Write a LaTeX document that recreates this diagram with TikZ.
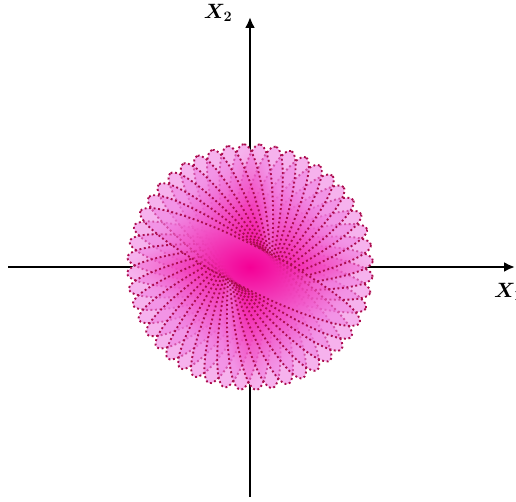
\documentclass[tikz,border=0pt]{standalone}
\usepackage{bm}
\usetikzlibrary{arrows.meta}
\definecolor{deep}{RGB}{245,0,150}
\definecolor{lite}{RGB}{240,128,226}
\definecolor{dotc}{RGB}{172,12,78}
\tikzset{
 axisline/.style={line width=2.4pt, -{Latex[length=11pt,width=10pt]}},
 petal/.style={inner color=deep, outer color=lite, fill opacity=0.6},
 petaledge/.style={draw=dotc, line width=1.9pt, dash pattern=on 1.9pt off 2.6pt},
 lab/.style={font=\fontsize{20}{24}\selectfont, inner sep=0pt}
}
\begin{document}
\begin{tikzpicture}[x=1pt,y=1pt]
\useasboundingbox (0,0) rectangle (516,502);
\coordinate (O) at (250,235);
\coordinate (xs) at (8,235);
\coordinate (xe) at (515,235);
\coordinate (ys) at (250,5);
\coordinate (ye) at (250,485);
\draw[axisline] (xs) -- (xe);
\draw[axisline] (ys) -- (ye);
\fill[white] foreach \i in {0,...,23} { (O) ellipse [x radius=123pt, y radius=21pt, rotate={153-(23-\i)*7.5}] };
\foreach \i in {0,...,23} {
  \pgfmathsetmacro\ang{153-(23-\i)*7.5}
  \shade[petal] (O) ellipse [x radius=123pt, y radius=21pt, rotate=\ang];
  \draw[petaledge] (O) ellipse [x radius=123pt, y radius=21pt, rotate=\ang];
}
\node[lab] (x2) at (218,489) {$\bm{X_2}$};
\node[lab, anchor=west] (x1) at (494,210) {$\bm{X_1}$};
\end{tikzpicture}
\end{document}
